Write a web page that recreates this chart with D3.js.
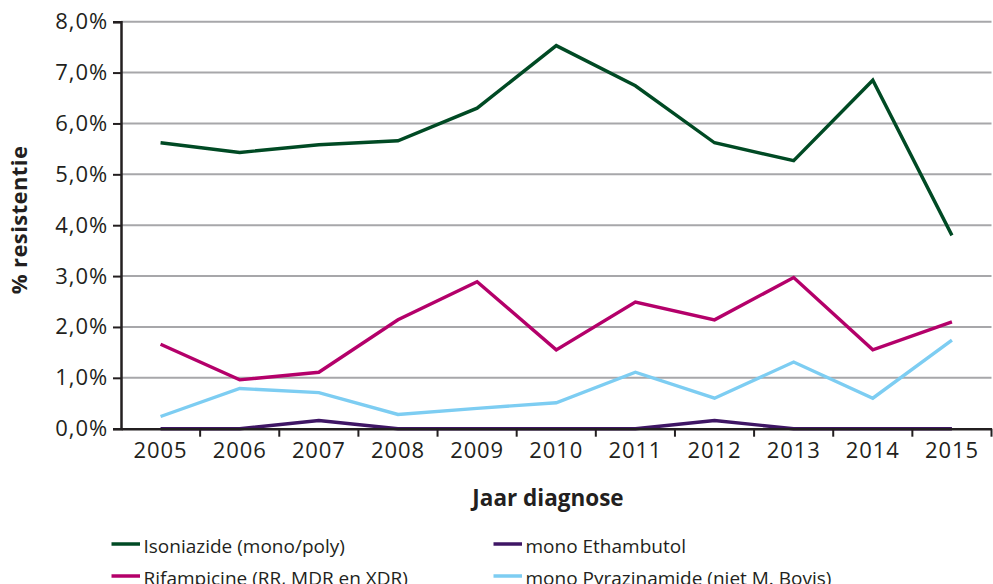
<!DOCTYPE html>
<html>
<head>
<meta charset="utf-8">
<script src="https://cdn.jsdelivr.net/npm/d3@7"></script>
<style>
  html, body { margin: 0; padding: 0; background: #fff; }
  svg { display: block; }
  text { font-family: "Open Sans", "Noto Sans", sans-serif; fill: #231f20; }
</style>
</head>
<body>
<svg id="chart" width="993" height="584"></svg>
<script>
// Years of diagnosis
const years = ["2005","2006","2007","2008","2009","2010","2011","2012","2013","2014","2015"];

// Percentage resistant per year
const isoniazide   = [5.62, 5.43, 5.58, 5.66, 6.30, 7.53, 6.74, 5.62, 5.27, 6.85, 3.80];
const rifampicine  = [1.66, 0.96, 1.11, 2.14, 2.89, 1.55, 2.49, 2.14, 2.97, 1.55, 2.10];
const ethambutol   = [0.00, 0.00, 0.16, 0.00, 0.00, 0.00, 0.00, 0.16, 0.00, 0.00, 0.00];
const pyrazinamide = [0.24, 0.79, 0.71, 0.28, 0.40, 0.51, 1.11, 0.60, 1.31, 0.60, 1.74];

const yTicks = [0, 1, 2, 3, 4, 5, 6, 7, 8];

const seriesNames  = ["Isoniazide (mono/poly)", "Rifampicine (RR, MDR en XDR)", "mono Ethambutol", "mono Pyrazinamide (niet M. Bovis)"];
const seriesColors = ["#004a24", "#b4006a", "#3f1665", "#7dcdf2"];
const seriesValues = [isoniazide, rifampicine, ethambutol, pyrazinamide];

const svg = d3.select("#chart");
const plotLeft = 121, plotRight = 991.5, plotTop = 21.7, plotBottom = 428.7;

const x = d3.scaleBand().domain(years).range([plotLeft, plotRight]);
const y = d3.scaleLinear().domain([0, 8]).range([plotBottom, plotTop]);

const fmt = v => d3.format(".1f")(v).replace(".", ",") + "%";

// Horizontal gridlines
svg.append("g")
  .selectAll("line")
  .data(yTicks.filter(t => t > 0))
  .join("line")
  .attr("x1", plotLeft).attr("x2", plotRight)
  .attr("y1", d => y(d)).attr("y2", d => y(d))
  .attr("stroke", "#a7a7aa").attr("stroke-width", 2);

// Y axis
const yAxis = svg.append("g")
  .attr("transform", `translate(${plotLeft},0)`)
  .call(d3.axisLeft(y).tickValues(yTicks).tickFormat(fmt).tickSize(8).tickPadding(5));
yAxis.select(".domain").attr("stroke", "#231f20").attr("stroke-width", 2.5);
yAxis.selectAll(".tick line").attr("stroke", "#231f20").attr("stroke-width", 2);
yAxis.selectAll(".tick text").attr("font-size", 22).attr("fill", "#231f20")
  .attr("letter-spacing", 0.9)
  .style("font-family", "'Open Sans', sans-serif");

// Lines
const line = d3.line()
  .x((d, i) => x(years[i]) + x.bandwidth() / 2)
  .y(d => y(d));

// Draw order: blue, magenta, green, purple on top near zero
const drawOrder = [3, 1, 0, 2];
svg.append("g")
  .selectAll("path")
  .data(drawOrder)
  .join("path")
  .attr("d", k => line(seriesValues[k]))
  .attr("fill", "none")
  .attr("stroke", k => seriesColors[k])
  .attr("stroke-width", 3.4)
  .attr("stroke-linejoin", "miter");

// X axis
const xAxis = svg.append("g")
  .attr("transform", `translate(0,${plotBottom})`)
  .call(d3.axisBottom(x).tickSize(0).tickPadding(14));
xAxis.select(".domain").attr("stroke", "#231f20").attr("stroke-width", 2.5);
xAxis.selectAll(".tick text").attr("font-size", 22).attr("fill", "#231f20")
  .attr("letter-spacing", 0.9)
  .style("font-family", "'Open Sans', sans-serif");

// Category boundary ticks
svg.append("g")
  .selectAll("line")
  .data(years)
  .join("line")
  .attr("x1", d => x(d) + x.step())
  .attr("x2", d => x(d) + x.step())
  .attr("y1", plotBottom).attr("y2", plotBottom + 8)
  .attr("stroke", "#231f20").attr("stroke-width", 2);

// Axis titles
svg.append("text")
  .attr("transform", "translate(27,220) rotate(-90)")
  .attr("text-anchor", "middle")
  .attr("font-size", 22).attr("font-weight", "bold")
  .attr("letter-spacing", 0.4)
  .text("% resistentie");

svg.append("text")
  .attr("x", 548).attr("y", 506)
  .attr("text-anchor", "middle")
  .attr("font-size", 22.5).attr("font-weight", "bold")
  .text("Jaar diagnose");

// Legend
const legendPos = [
  { x: 111.5, y: 544 },
  { x: 111.5, y: 576 },
  { x: 493.5, y: 544 },
  { x: 493.5, y: 576 }
];
const legend = svg.append("g")
  .selectAll("g")
  .data(seriesNames.map((n, i) => ({ name: n, color: seriesColors[i], pos: legendPos[i] })))
  .join("g")
  .attr("transform", d => `translate(${d.pos.x},${d.pos.y})`);
legend.append("line")
  .attr("x1", 0).attr("x2", 28.5).attr("y1", 0).attr("y2", 0)
  .attr("stroke", d => d.color).attr("stroke-width", 3.5);
legend.append("text")
  .attr("x", 32).attr("y", 9)
  .attr("font-size", 19)
  .style("font-family", "'Open Sans', sans-serif")
  .text(d => d.name);
</script>
</body>
</html>
